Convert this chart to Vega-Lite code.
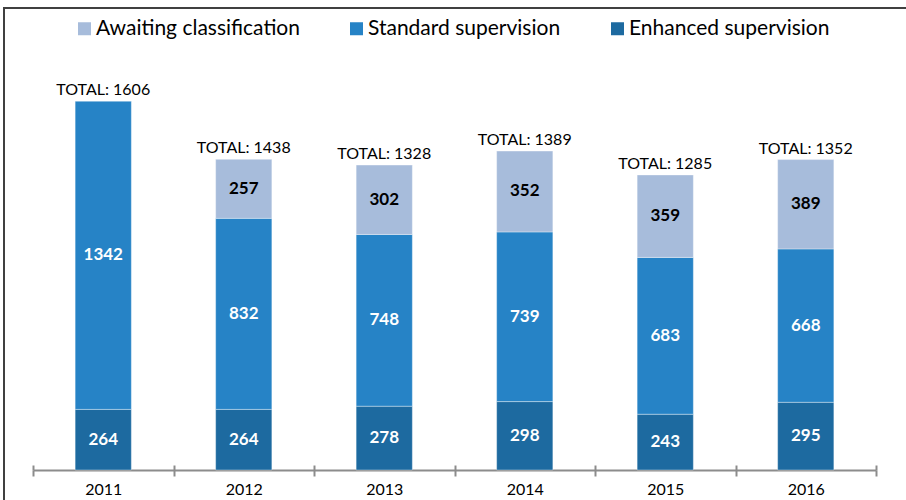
{
  "$schema": "https://vega.github.io/schema/vega-lite/v6.json",
  "width": 912,
  "height": 502,
  "autosize": {"type": "none"},
  "padding": {"left": 4, "top": 8, "right": -10, "bottom": -10},
  "background": "white",
  "config": {"view": {"stroke": "#404040", "strokeWidth": 2}, "font": "Lato"},
  "datasets": {
    "main": [
      {"year": "2011", "category": "Enhanced supervision", "value": 264, "order": 1},
      {"year": "2011", "category": "Standard supervision", "value": 1342, "order": 2},
      {"year": "2012", "category": "Enhanced supervision", "value": 264, "order": 1},
      {"year": "2012", "category": "Standard supervision", "value": 832, "order": 2},
      {"year": "2012", "category": "Awaiting classification", "value": 257, "order": 3},
      {"year": "2013", "category": "Enhanced supervision", "value": 278, "order": 1},
      {"year": "2013", "category": "Standard supervision", "value": 748, "order": 2},
      {"year": "2013", "category": "Awaiting classification", "value": 302, "order": 3},
      {"year": "2014", "category": "Enhanced supervision", "value": 298, "order": 1},
      {"year": "2014", "category": "Standard supervision", "value": 739, "order": 2},
      {"year": "2014", "category": "Awaiting classification", "value": 352, "order": 3},
      {"year": "2015", "category": "Enhanced supervision", "value": 243, "order": 1},
      {"year": "2015", "category": "Standard supervision", "value": 683, "order": 2},
      {"year": "2015", "category": "Awaiting classification", "value": 359, "order": 3},
      {"year": "2016", "category": "Enhanced supervision", "value": 295, "order": 1},
      {"year": "2016", "category": "Standard supervision", "value": 668, "order": 2},
      {"year": "2016", "category": "Awaiting classification", "value": 389, "order": 3}
    ],
    "totals": [
      {"year": "2011", "label": "TOTAL: 1606"},
      {"year": "2012", "label": "TOTAL: 1438"},
      {"year": "2013", "label": "TOTAL: 1328"},
      {"year": "2014", "label": "TOTAL: 1389"},
      {"year": "2015", "label": "TOTAL: 1285"},
      {"year": "2016", "label": "TOTAL: 1352"}
    ]
  },
  "data": {"name": "main"},
  "resolve": {"axis": {"x": "independent"}},
  "layer": [
    {
      "mark": {"type": "bar", "width": {"band": 0.4}, "stroke": "#ffffff", "strokeWidth": 0.6, "strokeOpacity": 0.6},
      "encoding": {
        "x": {
          "field": "year", "type": "nominal",
          "scale": {"range": [29, 872], "paddingInner": 0, "paddingOuter": 0},
          "axis": {
            "orient": "bottom", "offset": -40, "title": null, "labelAngle": 0,
            "domainColor": "#8c8c8c", "domainWidth": 2,
            "tickColor": "#8c8c8c", "tickWidth": 2, "tickSize": 6, "tickBand": "extent",
            "labelFontSize": 16, "labelColor": "#000000", "labelPadding": 5, "labelFont": "Lato",
            "grid": false
          }
        },
        "y": {
          "field": "value", "type": "quantitative", "stack": "zero",
          "scale": {"domain": [-174.2, 2012.2], "nice": false, "zero": false},
          "axis": null
        },
        "color": {
          "field": "category", "type": "nominal",
          "scale": {
            "domain": ["Awaiting classification", "Standard supervision", "Enhanced supervision"],
            "range": ["#A7BCDB", "#2683C6", "#1D6AA0"]
          },
          "legend": {
            "orient": "none", "legendX": 70, "legendY": 10,
            "direction": "horizontal", "columns": 3, "title": null,
            "symbolType": "square", "symbolSize": 169, "symbolStrokeWidth": 0,
            "labelFontSize": 21, "labelFont": "Lato", "labelColor": "#000000", "labelLimit": 0,
            "columnPadding": 46, "labelOffset": 1, "padding": 0
          }
        },
        "order": {"field": "order", "type": "quantitative"}
      }
    },
    {
      "transform": [
        {"stack": "value", "groupby": ["year"], "sort": [{"field": "order", "order": "ascending"}], "as": ["y0", "y1"]},
        {"fold": ["y0", "y1"], "as": ["k", "pos"]}
      ],
      "mark": {"type": "text", "fontWeight": "bold", "fontSize": 17, "baseline": "middle", "font": "Lato"},
      "encoding": {
        "x": {
          "field": "year", "type": "nominal",
          "axis": {
            "orient": "bottom", "offset": -40, "title": null, "domain": false, "labels": false,
            "tickSize": -5, "tickBand": "extent", "tickColor": "#8c8c8c", "tickWidth": 2, "grid": false
          }
        },
        "y": {"aggregate": "mean", "field": "pos", "type": "quantitative"},
        "text": {"aggregate": "max", "field": "value", "type": "quantitative"},
        "detail": {"field": "category", "type": "nominal"},
        "color": {
          "condition": {"test": "datum.category === 'Awaiting classification'", "value": "#000000"},
          "value": "#ffffff"
        }
      }
    },
    {
      "transform": [
        {"aggregate": [{"op": "sum", "field": "value", "as": "top"}], "groupby": ["year"]},
        {"lookup": "year", "from": {"data": {"name": "totals"}, "key": "year", "fields": ["label"]}}
      ],
      "mark": {"type": "text", "fontSize": 16, "baseline": "alphabetic", "dy": -6, "color": "#000000", "font": "Lato"},
      "encoding": {
        "x": {"field": "year", "type": "nominal", "axis": null},
        "y": {"field": "top", "type": "quantitative"},
        "text": {"field": "label", "type": "nominal"}
      }
    }
  ]
}
